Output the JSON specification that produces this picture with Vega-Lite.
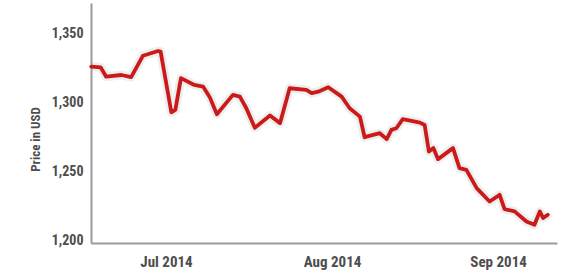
{
  "$schema": "https://vega.github.io/schema/vega-lite/v6.json",
  "width": 466,
  "height": 240,
  "autosize": {"type": "none"},
  "padding": {"left": 91, "top": 3, "right": 10, "bottom": 34},
  "background": "white",
  "config": {"view": {"stroke": null}},
  "data": {"values": [
    {"date": "2014-06-17T01:00", "price": 1325.9},
    {"date": "2014-06-18T19:00", "price": 1325.4},
    {"date": "2014-06-19T20:00", "price": 1318.6},
    {"date": "2014-06-22T16:00", "price": 1319.8},
    {"date": "2014-06-24T12:00", "price": 1318.2},
    {"date": "2014-06-26T17:00", "price": 1333.8},
    {"date": "2014-06-29T12:00", "price": 1337.2},
    {"date": "2014-06-30T00:00", "price": 1336.7},
    {"date": "2014-07-02T00:00", "price": 1292.8},
    {"date": "2014-07-02T18:00", "price": 1294.5},
    {"date": "2014-07-03T19:00", "price": 1317.5},
    {"date": "2014-07-06T07:00", "price": 1312.6},
    {"date": "2014-07-07T22:00", "price": 1311.4},
    {"date": "2014-07-08T17:00", "price": 1306.6},
    {"date": "2014-07-09T05:00", "price": 1303.4},
    {"date": "2014-07-10T12:00", "price": 1291.4},
    {"date": "2014-07-13T12:00", "price": 1305.4},
    {"date": "2014-07-14T19:00", "price": 1304.1},
    {"date": "2014-07-16T00:00", "price": 1295.7},
    {"date": "2014-07-17T14:00", "price": 1281.6},
    {"date": "2014-07-20T10:00", "price": 1290.4},
    {"date": "2014-07-22T07:00", "price": 1284.9},
    {"date": "2014-07-24T02:00", "price": 1310.2},
    {"date": "2014-07-27T05:00", "price": 1309.0},
    {"date": "2014-07-28T05:00", "price": 1306.6},
    {"date": "2014-07-29T10:00", "price": 1307.7},
    {"date": "2014-07-31T07:00", "price": 1310.9},
    {"date": "2014-08-02T19:00", "price": 1304.1},
    {"date": "2014-08-04T07:00", "price": 1295.7},
    {"date": "2014-08-06T05:00", "price": 1289.6},
    {"date": "2014-08-07T02:00", "price": 1274.7},
    {"date": "2014-08-09T22:00", "price": 1277.6},
    {"date": "2014-08-11T05:00", "price": 1273.3},
    {"date": "2014-08-12T02:00", "price": 1280.0},
    {"date": "2014-08-13T00:00", "price": 1281.2},
    {"date": "2014-08-14T05:00", "price": 1287.8},
    {"date": "2014-08-17T10:00", "price": 1285.3},
    {"date": "2014-08-18T07:00", "price": 1283.6},
    {"date": "2014-08-19T02:00", "price": 1264.3},
    {"date": "2014-08-19T22:00", "price": 1266.8},
    {"date": "2014-08-20T19:00", "price": 1258.8},
    {"date": "2014-08-23T14:00", "price": 1266.8},
    {"date": "2014-08-24T19:00", "price": 1252.3},
    {"date": "2014-08-26T02:00", "price": 1251.0},
    {"date": "2014-08-28T00:00", "price": 1237.8},
    {"date": "2014-08-30T10:00", "price": 1228.1},
    {"date": "2014-09-01T07:00", "price": 1232.9},
    {"date": "2014-09-02T05:00", "price": 1222.6},
    {"date": "2014-09-04T02:00", "price": 1220.9},
    {"date": "2014-09-06T07:00", "price": 1213.6},
    {"date": "2014-09-07T19:00", "price": 1211.2},
    {"date": "2014-09-08T19:00", "price": 1220.9},
    {"date": "2014-09-09T10:00", "price": 1216.1},
    {"date": "2014-09-10T07:00", "price": 1218.5}
  ]},
  "encoding": {
    "x": {
      "field": "date", "type": "temporal",
      "scale": {"domain": ["2014-06-17T00:00", "2014-09-12T00:00"]},
      "axis": {
        "title": null, "format": "%b %Y", "tickCount": "month",
        "ticks": false, "tickSize": 0, "grid": false,
        "domainColor": "#9a9a9a", "domainWidth": 2,
        "labelFont": "'Roboto Condensed', 'Liberation Sans', sans-serif", "labelFontWeight": "bold",
        "labelFontSize": 15, "labelColor": "#4d4d4d", "labelPadding": 11
      }
    },
    "y": {
      "field": "price", "type": "quantitative",
      "scale": {"domain": [1198, 1372], "nice": false, "zero": false},
      "axis": {
        "title": "Price in USD", "values": [1200, 1250, 1300, 1350], "format": ",.0f",
        "ticks": false, "tickSize": 0, "grid": false,
        "domainColor": "#9a9a9a", "domainWidth": 2,
        "labelFont": "'Roboto Condensed', 'Liberation Sans', sans-serif", "labelFontWeight": "bold",
        "labelFontSize": 14, "labelColor": "#4d4d4d", "labelPadding": 8,
        "titleFont": "'Roboto Condensed', 'Liberation Sans', sans-serif", "titleFontWeight": "bold",
        "titleFontSize": 13, "titleColor": "#4d4d4d", "titlePadding": 9, "titleY": 136
      }
    }
  },
  "layer": [
    {"mark": {"type": "line", "color": "#9aa4a8", "strokeWidth": 9, "opacity": 0.18, "strokeJoin": "round"}},
    {"mark": {"type": "line", "color": "#cc1a1a", "strokeWidth": 3.8, "strokeJoin": "round", "strokeCap": "round"}}
  ]
}
